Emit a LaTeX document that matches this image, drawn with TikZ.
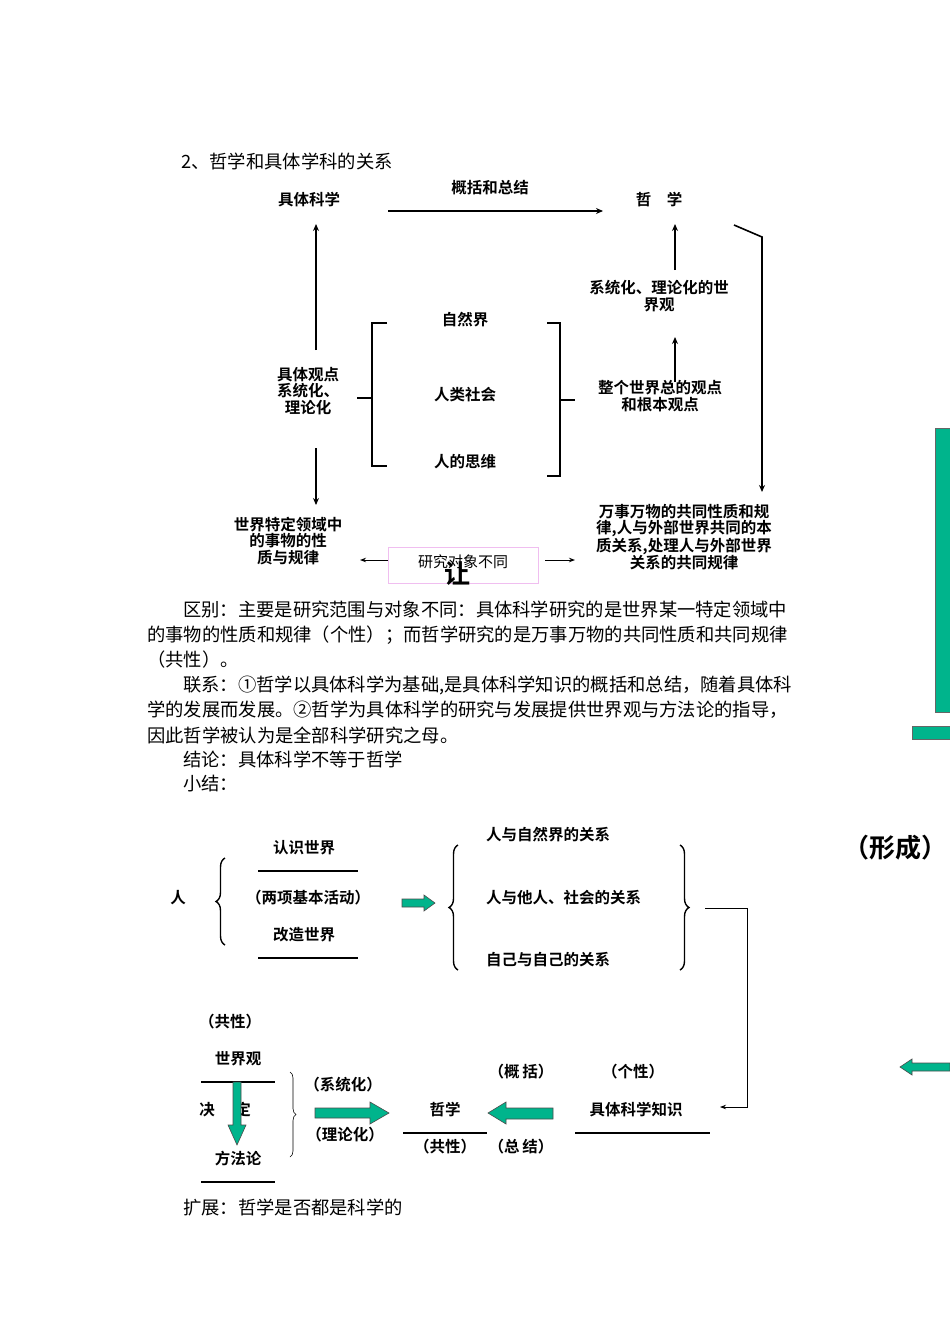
\documentclass[tikz,border=0pt]{standalone}
\usepackage{fontspec}
\setmainfont{Noto Sans CJK SC}
\newfontfamily\cjkb{Noto Sans CJK SC Bold}
\usetikzlibrary{arrows.meta,decorations.pathreplacing}
\definecolor{teal1}{RGB}{0,180,140}
\definecolor{pinkb}{RGB}{240,190,240}
\tikzset{
 lab/.style={font=\cjkb\fontsize{15.5}{16.5}\selectfont,align=center,inner sep=0},
 body/.style={font=\fontsize{18.3}{20}\selectfont,anchor=west,inner sep=0},
 arr/.style={line width=1.6pt,-{Stealth[length=7pt,width=6pt]}},
 brk/.style={line width=2pt},
 ul/.style={line width=1.4pt},
 tarr/.style={draw=black!70,fill=teal1,line width=0.6pt},
 brc/.style={decorate,decoration={brace,amplitude=9pt},line width=1.4pt},
}
\begin{document}
\begin{tikzpicture}[x=1pt,y=-1pt]
\useasboundingbox[fill=white] (0,0) rectangle (950,1344);
\node[body] (t0) at (181,161) {2、哲学和具体学科的关系};
\node[lab] (ks) at (309,200) {具体科学};
\node[lab] (gk) at (490,188) {概括和总结};
\node[lab] (zx) at (659,200) {哲\quad 学};
\coordinate (a1) at (388,211); \coordinate (a2) at (603,211);
\draw[arr] (a1) -- (a2);
\coordinate (b1) at (734,225); \coordinate (b2) at (762,237); \coordinate (b3) at (762,492);
\draw[arr] (b1) -- (b2) -- (b3);
\node[lab] (xt) at (659,296) {系统化、理论化的世\\界观};
\node[lab] (zg) at (660,396) {整个世界总的观点\\和根本观点};
\draw[arr] (675,270) -- (675,224);
\draw[arr] (675,382) -- (675,337);
\node[lab] (zr) at (465,320) {自然界};
\node[lab] (rl) at (465,395) {人类社会};
\node[lab] (rs) at (465,462) {人的思维};
\draw[brk] (387,323) -- (372,323) -- (372,466) -- (387,466);
\draw[brk] (357,398) -- (372,398);
\draw[brk] (547,323) -- (560,323) -- (560,476) -- (547,476);
\draw[brk] (560,400) -- (575,400);
\node[lab] (jt) at (308,391) {具体观点\\系统化、\\理论化};
\draw[arr] (316,350) -- (316,224);
\draw[arr] (316,448) -- (316,505);
\node[lab] (sj) at (288,541) {世界特定领域中\\的事物的性\\质与规律};
\node[lab] (ws) at (684,537) {万事万物的共同性质和规\\律,人与外部世界共同的本\\质关系,处理人与外部世界\\关系的共同规律};
\node[draw=pinkb,minimum width=150pt,minimum height=36pt,inner sep=0] (yj) at (463,565) {};
\node[font=\fontsize{15}{16}\selectfont,inner sep=0] (yjt) at (463,562) {研究对象不同};
\node[font=\cjkb\fontsize{26}{26}\selectfont,inner sep=0] (rang) at (457,574) {让};
\draw[line width=1pt,-{Stealth[length=6pt]}] (388,560) -- (360,560);
\draw[line width=1pt,-{Stealth[length=6pt]}] (545,560) -- (575,560);
% body text
\node[body] (p1) at (183,610) {区别：主要是研究范围与对象不同：具体科学研究的是世界某一特定领域中};
\node[body] (p2) at (147,635) {的事物的性质和规律（个性）；而哲学研究的是万事万物的共同性质和共同规律};
\node[body] (p3) at (147,660) {（共性）。};
\node[body] (p4) at (183,685) {联系：①哲学以具体科学为基础,是具体科学知识的概括和总结，随着具体科};
\node[body] (p5) at (147,710) {学的发展而发展。②哲学为具体科学的研究与发展提供世界观与方法论的指导，};
\node[body] (p6) at (147,735) {因此哲学被认为是全部科学研究之母。};
\node[body] (p7) at (183,759) {结论：具体科学不等于哲学};
\node[body] (p8) at (183,784) {小结：};
% right side teal
\fill[teal1] (935,428) rectangle (950,712);
\draw[black!60,line width=0.5pt] (950,428) -- (935,428) -- (935,712) -- (950,712);
\fill[teal1] (912,726) rectangle (950,739);
\draw[black!60,line width=0.5pt] (950,726) -- (912,726) -- (912,739) -- (950,739);
\node[font=\cjkb\fontsize{26}{27}\selectfont,inner sep=0,anchor=west] (xc) at (843,848) {（形成）};
\draw[tarr] (900,1067) -- (912,1059) -- (912,1063) -- (950,1063) -- (950,1071) -- (912,1071) -- (912,1075) -- cycle;
% bottom part
\node[lab] (ren) at (178,898) {人};
\draw[brc] (225,945) -- (225,858);
\node[lab] (rs2) at (304,848) {认识世界};
\draw[ul] (258,871) -- (358,871);
\node[lab] (lx) at (308,898) {（两项基本活动）};
\node[lab] (gz) at (304,935) {改造世界};
\draw[ul] (258,958) -- (358,958);
\draw[tarr] (402,899) -- (424,899) -- (424,895) -- (435,903) -- (424,911) -- (424,907) -- (402,907) -- cycle;
\draw[brc] (458,970) -- (458,845);
\draw[brc] (680,845) -- (680,970);
\node[lab,anchor=west] (g1) at (486,835) {人与自然界的关系};
\node[lab,anchor=west] (g2) at (486,898) {人与他人、社会的关系};
\node[lab,anchor=west] (g3) at (486,960) {自己与自己的关系};
\draw[line width=0.8pt,-{Stealth[length=6pt]}] (705,908) -- (747,908) -- (747,1107) -- (720,1107);
\node[lab] (gx1) at (230,1022) {（共性）};
\node[lab] (sjg) at (238,1059) {世界观};
\draw[ul] (201,1082) -- (275,1082);
\node[lab] (jue) at (207,1110) {决};
\node[lab] (ding) at (243,1110) {定};
\draw[tarr] (233,1082) -- (241,1082) -- (241,1125) -- (246,1125) -- (237,1145) -- (228,1125) -- (233,1125) -- cycle;
\node[lab] (ff) at (238,1159) {方法论};
\draw[ul] (201,1182) -- (275,1182);
\draw[decorate,decoration={brace,amplitude=6pt},line width=0.6pt] (290,1072) -- (290,1157);
\node[lab] (xth) at (343,1085) {（系统化）};
\node[lab] (llh) at (345,1135) {（理论化）};
\draw[tarr] (315,1108) -- (370,1108) -- (370,1102) -- (389,1113) -- (370,1124) -- (370,1118) -- (315,1118) -- cycle;
\node[lab] (zx2) at (445,1110) {哲学};
\draw[ul] (403,1133) -- (487,1133);
\node[lab] (gx2) at (445,1147) {（共性）};
\node[lab] (zj) at (521,1147) {（总\,结）};
\node[lab] (gk2) at (521,1072) {（概\,括）};
\draw[tarr] (488,1113) -- (506,1102) -- (506,1108) -- (553,1108) -- (553,1119) -- (506,1119) -- (506,1124) -- cycle;
\node[lab] (gxx) at (633,1072) {（个性）};
\node[lab] (jtk) at (636,1110) {具体科学知识};
\draw[ul] (575,1133) -- (710,1133);
\node[body] (kz) at (183,1207) {扩展：哲学是否都是科学的};
\end{tikzpicture}
\end{document}
